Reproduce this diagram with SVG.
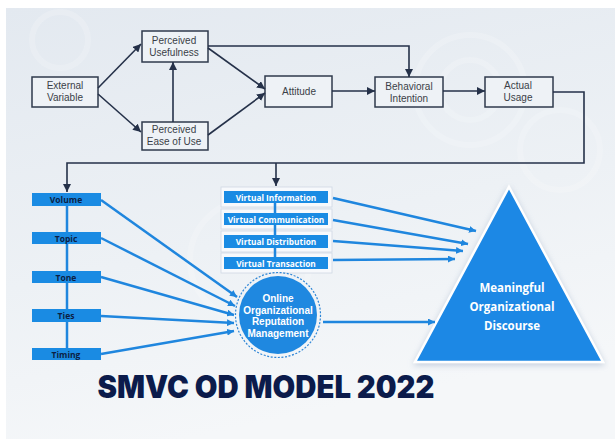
<svg xmlns="http://www.w3.org/2000/svg" width="615" height="439" viewBox="0 0 615 439">
  <defs>
    <linearGradient id="bg" x1="0" y1="0" x2="0.3" y2="1">
      <stop offset="0" stop-color="#e3e9f0"/>
      <stop offset="0.6" stop-color="#edf1f5"/>
      <stop offset="1" stop-color="#f5f7f9"/>
    </linearGradient>
    <marker id="navyArrow" viewBox="0 0 10 10" refX="10" refY="5" markerWidth="8" markerHeight="8" markerUnits="userSpaceOnUse" orient="auto">
      <path d="M0,0 L10,5 L0,10 z" fill="#253149"/>
    </marker>
    <marker id="blueArrow" viewBox="0 0 10 10" refX="10" refY="5" markerWidth="7" markerHeight="7" markerUnits="userSpaceOnUse" orient="auto">
      <path d="M0,0 L10,5 L0,10 z" fill="#1f86de"/>
    </marker>
    <filter id="shadow" x="-20%" y="-20%" width="140%" height="140%">
      <feGaussianBlur in="SourceAlpha" stdDeviation="3"/>
      <feOffset dx="0" dy="2" result="b"/>
      <feFlood flood-color="#8fa3c0" flood-opacity="0.5"/>
      <feComposite in2="b" operator="in"/>
      <feMerge><feMergeNode/><feMergeNode in="SourceGraphic"/></feMerge>
    </filter>
  </defs>
  <style>
    .tam rect { fill: #eef2f6; stroke: #2f3a4c; stroke-width: 1.5; }
    .tam text { font-family: "Liberation Sans", Arial, sans-serif; font-size: 10px; fill: #3a3f48; text-anchor: middle; }
    .navy { fill: none; stroke: #253149; stroke-width: 1.6; }
    .blue { fill: none; stroke: #1f86de; stroke-width: 2.5; }
    .dim rect { fill: #1a8be3; }
    .dim text { font-family: "Open Sans", "Liberation Sans", sans-serif; font-size: 8.5px; font-weight: bold; fill: #0c1f44; text-anchor: middle; }
    .virt .frame { fill: #f7f9fc; stroke: #cfd8e4; stroke-width: 0.8; }
    .virt .bar { fill: #1a8be3; }
    .virt text { font-family: "Open Sans", "Liberation Sans", sans-serif; font-size: 8.3px; font-weight: bold; fill: #ffffff; text-anchor: middle; }
    .white-b { font-family: "Liberation Sans", Arial, sans-serif; font-weight: bold; fill: #ffffff; text-anchor: middle; }
  </style>

  <!-- backdrop -->
  <rect x="0" y="0" width="615" height="439" fill="#ffffff"/>
  <rect x="6" y="8" width="609" height="431" fill="url(#bg)"/>
  <g fill="none" stroke="#ffffff" stroke-opacity="0.18" stroke-width="6">
    <circle cx="60" cy="40" r="28"/>
    <circle cx="250" cy="260" r="60"/>
    <circle cx="470" cy="90" r="55"/>
    <circle cx="470" cy="90" r="30"/>
    <circle cx="560" cy="150" r="40"/>
  </g>

  <!-- technology acceptance nodes -->
  <g id="external-variable" class="tam">
    <rect x="32" y="77" width="66" height="30"/>
    <text x="65" y="89">External</text>
    <text x="65" y="101">Variable</text>
  </g>
  <g id="perceived-usefulness" class="tam">
    <rect x="142" y="31" width="66" height="31"/>
    <text x="174" y="44">Perceived</text>
    <text x="174" y="56">Usefulness</text>
  </g>
  <g id="perceived-ease" class="tam">
    <rect x="142" y="122" width="66" height="28"/>
    <text x="174" y="133">Perceived</text>
    <text x="174" y="145">Ease of Use</text>
  </g>
  <g id="attitude" class="tam">
    <rect x="265" y="76" width="67" height="31"/>
    <text x="299" y="95">Attitude</text>
  </g>
  <g id="behavioral-intention" class="tam">
    <rect x="375" y="77" width="68" height="30"/>
    <text x="409" y="90">Behavioral</text>
    <text x="409" y="102">Intention</text>
  </g>
  <g id="actual-usage" class="tam">
    <rect x="485" y="77" width="68" height="30"/>
    <text x="518" y="89">Actual</text>
    <text x="518" y="101">Usage</text>
  </g>

  <!-- dimension nodes -->
  <g id="volume" class="dim">
    <rect x="32" y="193" width="69" height="13"/>
    <text x="66" y="203">Volume</text>
  </g>
  <g id="topic" class="dim">
    <rect x="32" y="232" width="69" height="12"/>
    <text x="66" y="241.5">Topic</text>
  </g>
  <g id="tone" class="dim">
    <rect x="32" y="271" width="69" height="12"/>
    <text x="66" y="280.5">Tone</text>
  </g>
  <g id="ties" class="dim">
    <rect x="32" y="309" width="69" height="13"/>
    <text x="66" y="319">Ties</text>
  </g>
  <g id="timing" class="dim">
    <rect x="32" y="348" width="69" height="12"/>
    <text x="66" y="357.5">Timing</text>
  </g>

  <!-- virtual function nodes -->
  <g id="virtual-information" class="virt">
    <rect class="frame" x="221" y="187" width="111" height="20"/>
    <rect class="bar" x="224" y="191" width="104" height="12"/>
    <text x="276" y="200.5">Virtual Information</text>
  </g>
  <g id="virtual-communication" class="virt">
    <rect class="frame" x="221" y="209" width="111" height="20"/>
    <rect class="bar" x="224" y="213" width="104" height="12"/>
    <text x="276" y="222.5">Virtual Communication</text>
  </g>
  <g id="virtual-distribution" class="virt">
    <rect class="frame" x="221" y="231" width="111" height="21"/>
    <rect class="bar" x="224" y="235" width="104" height="13"/>
    <text x="276" y="245">Virtual Distribution</text>
  </g>
  <g id="virtual-transaction" class="virt">
    <rect class="frame" x="221" y="253" width="111" height="20"/>
    <rect class="bar" x="224" y="257" width="104" height="12"/>
    <text x="276" y="266.5">Virtual Transaction</text>
  </g>

  <!-- reputation management -->
  <g id="reputation-management">
    <circle cx="278" cy="315" r="42.5" fill="none" stroke="#2f86d6" stroke-width="1.2" stroke-dasharray="2 1.6"/>
    <circle cx="278" cy="315" r="39" fill="#1f88e0"/>
    <text class="white-b" font-size="10" x="278" y="302">Online</text>
    <text class="white-b" font-size="10" x="278" y="313.5">Organizational</text>
    <text class="white-b" font-size="10" x="278" y="325">Reputation</text>
    <text class="white-b" font-size="10" x="278" y="336.5">Management</text>
  </g>

  <!-- discourse -->
  <g id="meaningful-discourse">
    <polygon points="509,187 603,362 415,362" fill="#1f88e5" stroke="#ffffff" stroke-width="2.5" stroke-linejoin="miter" filter="url(#shadow)"/>
    <text x="512" y="292" font-family="'Open Sans', 'Liberation Sans', sans-serif" font-size="11.5" font-weight="bold" fill="#ffffff" text-anchor="middle">Meaningful</text>
    <text x="512" y="311" font-family="'Open Sans', 'Liberation Sans', sans-serif" font-size="11.5" font-weight="bold" fill="#ffffff" text-anchor="middle">Organizational</text>
    <text x="512" y="330" font-family="'Open Sans', 'Liberation Sans', sans-serif" font-size="11.5" font-weight="bold" fill="#ffffff" text-anchor="middle">Discourse</text>
  </g>

  <!-- connectors, drawn over the frames so the spines show between bars -->
  <g id="connectors">
    <!-- technology acceptance chain -->
    <line class="navy" x1="98" y1="88" x2="141" y2="44" marker-end="url(#navyArrow)"/>
    <line class="navy" x1="98" y1="94" x2="141" y2="132" marker-end="url(#navyArrow)"/>
    <line class="navy" x1="173" y1="122" x2="173" y2="62" marker-end="url(#navyArrow)"/>
    <line class="navy" x1="208" y1="48" x2="265" y2="89" marker-end="url(#navyArrow)"/>
    <line class="navy" x1="208" y1="135" x2="265" y2="93" marker-end="url(#navyArrow)"/>
    <polyline class="navy" points="208,46 409,46 409,77" marker-end="url(#navyArrow)"/>
    <line class="navy" x1="332" y1="91" x2="375" y2="91" marker-end="url(#navyArrow)"/>
    <line class="navy" x1="443" y1="91" x2="485" y2="91" marker-end="url(#navyArrow)"/>
    <polyline class="navy" points="553,92 584,92 584,163 67,163 67,192" marker-end="url(#navyArrow)"/>
    <line class="navy" x1="276" y1="163" x2="276" y2="186" marker-end="url(#navyArrow)"/>

    <!-- dimension spines, segment by segment between bars -->
    <line class="blue" x1="67" y1="206" x2="67" y2="232"/>
    <line class="blue" x1="67" y1="244" x2="67" y2="271"/>
    <line class="blue" x1="67" y1="283" x2="67" y2="309"/>
    <line class="blue" x1="67" y1="322" x2="67" y2="348"/>
    <line class="blue" x1="275" y1="203" x2="275" y2="213"/>
    <line class="blue" x1="275" y1="225" x2="275" y2="235"/>
    <line class="blue" x1="275" y1="248" x2="275" y2="257"/>

    <!-- dimensions into reputation management -->
    <line class="blue" x1="101" y1="200" x2="237" y2="297" marker-end="url(#blueArrow)"/>
    <line class="blue" x1="101" y1="238" x2="235" y2="306" marker-end="url(#blueArrow)"/>
    <line class="blue" x1="101" y1="277" x2="234" y2="315" marker-end="url(#blueArrow)"/>
    <line class="blue" x1="101" y1="316" x2="234" y2="323" marker-end="url(#blueArrow)"/>
    <line class="blue" x1="101" y1="354" x2="234" y2="331" marker-end="url(#blueArrow)"/>

    <!-- virtual functions into discourse -->
    <line class="blue" x1="333" y1="198" x2="476" y2="231" marker-end="url(#blueArrow)"/>
    <line class="blue" x1="333" y1="220" x2="468" y2="244" marker-end="url(#blueArrow)"/>
    <line class="blue" x1="333" y1="241" x2="463" y2="251" marker-end="url(#blueArrow)"/>
    <line class="blue" x1="333" y1="260" x2="455" y2="259" marker-end="url(#blueArrow)"/>
    <line class="blue" x1="323" y1="322" x2="435" y2="322" marker-end="url(#blueArrow)"/>
  </g>

  <!-- title -->
  <text x="266" y="398" font-family="Inter, Lato, 'Liberation Sans', sans-serif" font-size="31" font-weight="900" fill="#0b1b4b" text-anchor="middle" textLength="337" lengthAdjust="spacingAndGlyphs">SMVC OD MODEL 2022</text>
</svg>
